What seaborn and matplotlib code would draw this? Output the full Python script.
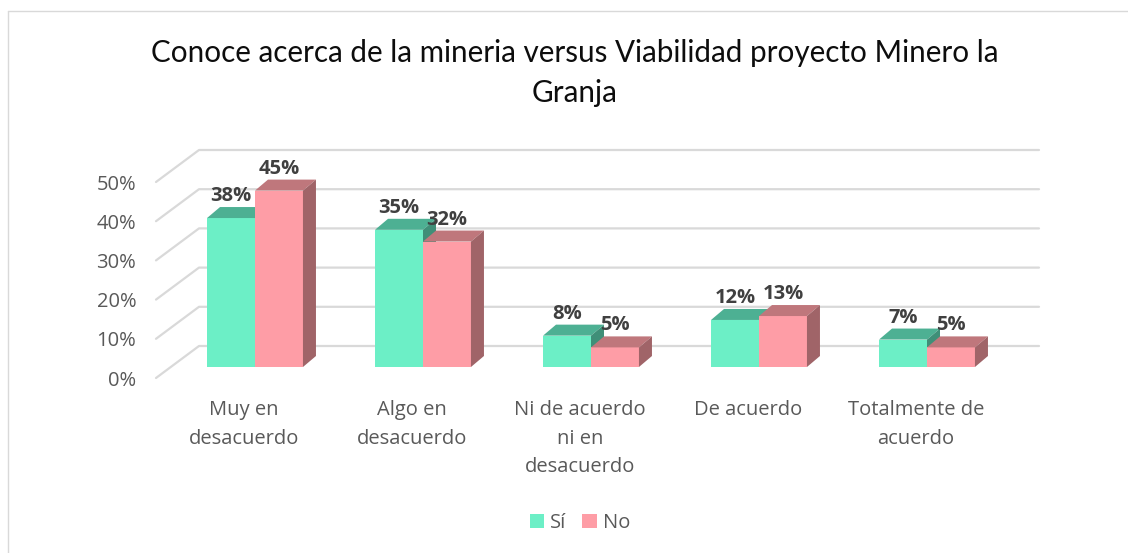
import matplotlib
matplotlib.use("Agg")
import matplotlib.pyplot as plt
import matplotlib.transforms as mtrans
from matplotlib.patches import Polygon, Patch
from matplotlib.lines import Line2D
import pandas as pd
import seaborn as sns

# data
categories = ["Muy en\ndesacuerdo", "Algo en\ndesacuerdo", "Ni de acuerdo\nni en\ndesacuerdo",
              "De acuerdo", "Totalmente de\nacuerdo"]
series = ["Sí", "No"]
si_values = [38, 35, 8, 12, 7]
no_values = [45, 32, 5, 13, 5]
y_ticks = [0, 10, 20, 30, 40, 50]
title = "Conoce acerca de la mineria versus Viabilidad proyecto Minero la\nGranja"

front_colors = {"Sí": "#6CEFC6", "No": "#FE9DA6"}
top_colors = {"Sí": "#4DB093", "No": "#BF777C"}
side_colors = {"Sí": "#3F8F78", "No": "#A06468"}

df = pd.DataFrame({
    "cat": categories * 2,
    "serie": ["Sí"] * len(categories) + ["No"] * len(categories),
    "val": si_values + no_values,
})

sns.set_theme(style="white")
plt.rcParams["font.family"] = ["Open Sans", "DejaVu Sans"]

W, H, DPI = 1128, 553, 100
fig = plt.figure(figsize=(W / DPI, H / DPI), dpi=DPI)
# axes = plane of the bar fronts
ax_l, ax_r, ax_t, ax_b = 171, 1011, 171, 367
ax = fig.add_axes([ax_l / W, 1 - ax_b / H, (ax_r - ax_l) / W, (ax_b - ax_t) / H])

sns.barplot(data=df, x="cat", y="val", hue="serie", palette=front_colors,
            width=0.571, saturation=1, legend=False, ax=ax, zorder=2)
ax.set_xlim(-0.5, len(categories) - 0.5)
ax.set_ylim(0, 50)
for s in ax.spines.values():
    s.set_visible(False)

px_x = (len(categories)) / (ax_r - ax_l)   # data units per pixel
px_y = 50 / (ax_b - ax_t)

# gridlines: from front floor edge up to the back wall, then along the wall
front_dx, front_dy = -15, -11
back_dx, back_dy = 28, 21
grid_c = "#D9D9D9"
for v in y_ticks:
    x0 = -0.5
    xs = [x0 + front_dx * px_x, x0 + back_dx * px_x, len(categories) - 0.5 + back_dx * px_x]
    ys = [v + front_dy * px_y, v + back_dy * px_y, v + back_dy * px_y]
    ax.add_line(Line2D(xs, ys, color=grid_c, lw=1.6, zorder=0, clip_on=False))

# 3d faces for the bars
depth_x, depth_y = 13 * px_x, 11 * px_y
n = len(categories)
for i, bar in enumerate(ax.patches[:2 * n]):
    serie = series[i // n]
    z = 2 if serie == "Sí" else 3
    bar.set_zorder(z)
    bar.set_edgecolor("none")
    x, w, h = bar.get_x(), bar.get_width(), bar.get_height()
    top = Polygon([(x, h), (x + depth_x, h + depth_y), (x + w + depth_x, h + depth_y), (x + w, h)],
                  closed=True, facecolor=top_colors[serie], edgecolor="none", zorder=z, clip_on=False)
    side = Polygon([(x + w, 0), (x + w + depth_x, depth_y), (x + w + depth_x, h + depth_y), (x + w, h)],
                   closed=True, facecolor=side_colors[serie], edgecolor="none", zorder=z, clip_on=False)
    ax.add_patch(top)
    ax.add_patch(side)
    ax.annotate(f"{h:.0f}%", (x + w / 2, h), xytext=(0, 17), textcoords="offset pixels",
                ha="center", va="baseline", fontsize=14.5, fontweight="bold", color="#404040",
                zorder=5, annotation_clip=False)

# axis labels sit on the front floor edge
ax.set_yticks(y_ticks)
ax.set_yticklabels([f"{v}%" for v in y_ticks])
ax.tick_params(axis="y", length=0, pad=25, labelsize=14.5, labelcolor="#595959")
for lab in ax.get_yticklabels():
    lab.set_transform(lab.get_transform() + mtrans.ScaledTranslation(0, -11 / DPI, fig.dpi_scale_trans))
ax.tick_params(axis="x", length=0, pad=24, labelsize=14.5, labelcolor="#595959")
for lab in ax.get_xticklabels():
    lab.set_linespacing(1.55)
    lab.set_transform(lab.get_transform() + mtrans.ScaledTranslation(-11 / DPI, 0, fig.dpi_scale_trans))
ax.set_xlabel("")
ax.set_ylabel("")

fig.text(575 / W, 1 - 73 / H, title, ha="center", va="center", fontsize=21.3,
         family=["Lato", "DejaVu Sans"], color="#0D0D0D", linespacing=1.55)

handles = [Patch(facecolor=front_colors[s], edgecolor="none") for s in series]
fig.legend(handles, series, loc="center", bbox_to_anchor=(580 / W, 1 - 523 / H), ncol=2,
           frameon=False, fontsize=14.5, labelcolor="#595959", handlelength=0.7,
           handleheight=0.7, handletextpad=0.3, columnspacing=0.8)

# thin chart border
fig.add_artist(Line2D([8 / W, 8 / W], [0, 1 - 11 / H], color="#D9D9D9", lw=1, transform=fig.transFigure))
fig.add_artist(Line2D([8 / W, 1], [1 - 11 / H, 1 - 11 / H], color="#D9D9D9", lw=1, transform=fig.transFigure))

fig.savefig("out.png", dpi=DPI, facecolor="white")
